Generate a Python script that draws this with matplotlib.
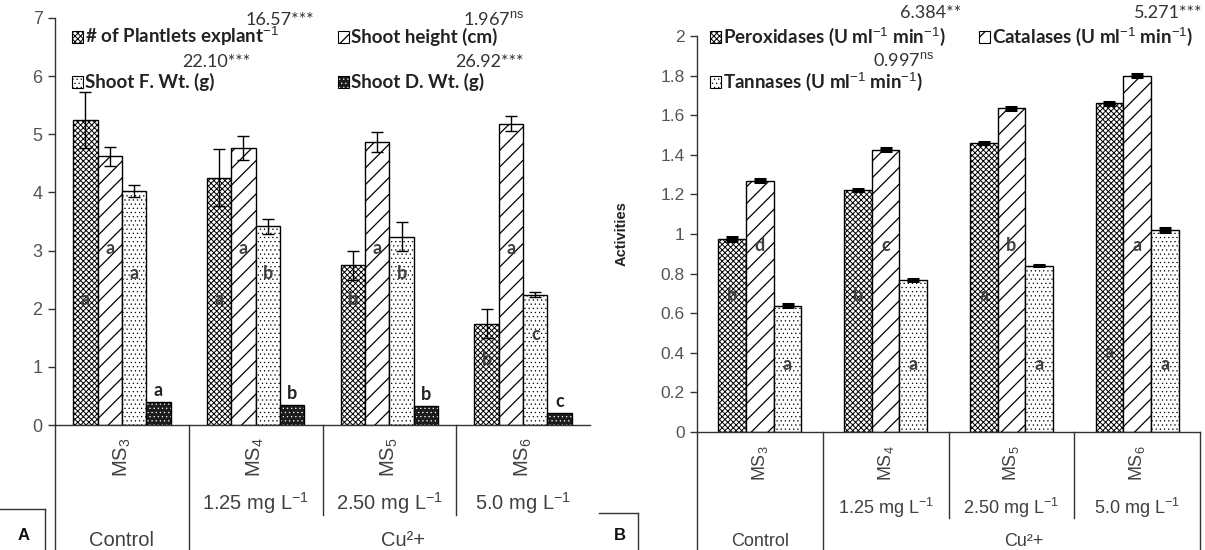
import matplotlib
matplotlib.use("Agg")
import matplotlib.pyplot as plt
import numpy as np
from matplotlib.lines import Line2D
from matplotlib.patches import Rectangle
from matplotlib.ticker import FuncFormatter

W, H = 1205, 550

plt.rcParams["font.family"] = ["Liberation Sans", "DejaVu Sans"]
plt.rcParams["mathtext.fontset"] = "custom"
plt.rcParams["mathtext.rm"] = "Liberation Sans"
plt.rcParams["mathtext.it"] = "Liberation Sans:italic"
plt.rcParams["mathtext.bf"] = "Liberation Sans:bold"

# ---- data ----------------------------------------------------------------
media = ["MS$_3$", "MS$_4$", "MS$_5$", "MS$_6$"]
doses = ["", "1.25 mg L$^{-1}$", "2.50 mg L$^{-1}$", "5.0 mg L$^{-1}$"]
treatments = ["Control", "Cu²+"]

# panel A: growth
plantlets = [5.25, 4.25, 2.75, 1.74]
plantlets_err = [0.48, 0.49, 0.25, 0.25]
height = [4.62, 4.76, 4.87, 5.18]
height_err = [0.16, 0.21, 0.17, 0.13]
fresh_wt = [4.02, 3.42, 3.24, 2.24]
fresh_wt_err = [0.10, 0.13, 0.25, 0.04]
dry_wt = [0.40, 0.34, 0.32, 0.21]

plantlets_grp = ["a", "a", "b", "b"]
height_grp = ["a", "a", "a", "a"]
fresh_wt_grp = ["a", "b", "b", "c"]
dry_wt_grp = ["a", "b", "b", "c"]

labels_a = ["# of Plantlets explant$^{-1}$", "Shoot height (cm)",
            "Shoot F. Wt. (g)", "Shoot D. Wt. (g)"]
fvals_a = ["16.57***", "1.967$^{\\rm ns}$", "22.10***", "26.92***"]

# panel B: enzyme activities
peroxidase = [0.975, 1.22, 1.46, 1.66]
peroxidase_err = [0.012, 0.005, 0.003, 0.008]
catalase = [1.27, 1.425, 1.635, 1.80]
catalase_err = [0.008, 0.008, 0.008, 0.006]
tannase = [0.637, 0.77, 0.84, 1.02]
tannase_err = [0.008, 0.005, 0.003, 0.012]

peroxidase_grp = ["b", "b", "a", "a"]
catalase_grp = ["d", "c", "b", "a"]
tannase_grp = ["a", "a", "a", "a"]

labels_b = ["Peroxidases (U ml$^{-1}$ min$^{-1}$)",
            "Catalases (U ml$^{-1}$ min$^{-1}$)",
            "Tannases (U ml$^{-1}$ min$^{-1}$)"]
fvals_b = ["6.384**", "5.271***", "0.997$^{\\rm ns}$"]

# ---- styles --------------------------------------------------------------
STYLES = {
    "cross": dict(face="white", hatch="xxxxxx", hcolor="black", hlw=0.7),
    "brick": dict(face="white", hatch="//", hcolor="black", hlw=0.9),
    "dots": dict(face="white", hatch="....", hcolor="black", hlw=0.4),
    "dark": dict(face="#1c1c1c", hatch="....", hcolor="white", hlw=0.4),
}
TICK_COLOR = "#555555"
LINE_COLOR = "#333333"
LEGEND_FONT = "Lato"


def hatched_bar(ax, x, h, width, style):
    s = STYLES[style]
    plt.rcParams["hatch.linewidth"] = s["hlw"]
    bars = ax.bar(x, h, width, color=s["face"], edgecolor=s["hcolor"],
                  hatch=s["hatch"], linewidth=0)
    for b in bars:
        if hasattr(b, "set_hatch_linewidth"):
            b.set_hatch_linewidth(s["hlw"])
    ax.bar(x, h, width, fill=False, edgecolor="black", linewidth=1)


def legend_patch(fig, x, y, style, w=11, h=12):
    """Small hatched square, x/y = top-left corner in pixels."""
    s = STYLES[style]
    plt.rcParams["hatch.linewidth"] = s["hlw"]
    r = Rectangle((x / W, 1 - (y + h) / H), w / W, h / H, transform=fig.transFigure,
                  facecolor=s["face"], edgecolor=s["hcolor"], hatch=s["hatch"],
                  linewidth=0)
    if hasattr(r, "set_hatch_linewidth"):
        r.set_hatch_linewidth(s["hlw"])
    fig.patches.append(r)
    fig.patches.append(Rectangle((x / W, 1 - (y + h) / H), w / W, h / H,
                                 transform=fig.transFigure, fill=False,
                                 edgecolor="black", linewidth=0.8))


def fig_text(fig, x, y, s, **kw):
    fig.text(x / W, 1 - y / H, s, **kw)


def below(ax, px):
    return -px / (ax.get_position().height * H)


def style_axis(ax, ymax, step, labelsize):
    ax.set_xlim(-0.5, 3.5)
    ax.set_ylim(0, ymax)
    ax.set_yticks(np.arange(0, ymax + step / 2, step))
    ax.yaxis.set_major_formatter(FuncFormatter(lambda v, _: f"{v:g}"))
    ax.set_xticks([])
    for side in ("top", "right"):
        ax.spines[side].set_visible(False)
    for side in ("left", "bottom"):
        ax.spines[side].set_color(LINE_COLOR)
        ax.spines[side].set_linewidth(1)
    ax.tick_params(axis="y", direction="out", length=5, width=1,
                   color=LINE_COLOR, labelcolor=TICK_COLOR,
                   labelsize=labelsize, pad=4)


def category_axis(ax, offsets, fontsize, right_edge):
    off_media, off_dose, off_treat, off_short, off_full = offsets
    tr = ax.get_xaxis_transform()
    kw = dict(transform=tr, ha="center", va="center", color="#404040", fontsize=fontsize)
    for i, m in enumerate(media):
        ax.text(i, below(ax, off_media), m, rotation=90, **kw)
        if doses[i]:
            ax.text(i, below(ax, off_dose), doses[i], **kw)
    ax.text(0, below(ax, off_treat), treatments[0], **kw)
    ax.text(2.1, below(ax, off_treat), treatments[1], **kw)
    line_kw = dict(transform=tr, clip_on=False, color=LINE_COLOR, linewidth=1)
    ax.plot([-0.5, -0.5], [0, below(ax, off_full)], **line_kw)
    ax.plot([0.5, 0.5], [0, below(ax, off_full)], **line_kw)
    for xd in (1.5, 2.5):
        ax.plot([xd, xd], [0, below(ax, off_short)], **line_kw)
    if right_edge:
        ax.plot([3.5, 3.5], [0, below(ax, off_full)], **line_kw)


fig = plt.figure(figsize=(W / 100, H / 100), dpi=100)
axA = fig.add_axes([55 / W, 1 - 425 / H, 535 / W, 407 / H])
axB = fig.add_axes([697 / W, 1 - 432 / H, 503 / W, 396 / H])

x = np.arange(len(media))
letter_kw = dict(ha="center", va="center", fontsize=13, fontweight="bold",
                 color="#404040", family=LEGEND_FONT)

# ---- panel A -------------------------------------------------------------
wA = 0.182
seriesA = [
    (plantlets, plantlets_err, "cross", plantlets_grp, [2.15, 2.15, 2.15, 1.13]),
    (height, height_err, "brick", height_grp, [3.04, 3.04, 3.04, 3.04]),
    (fresh_wt, fresh_wt_err, "dots", fresh_wt_grp, [2.6, 2.6, 2.6, 1.55]),
]
for k, (vals, errs, style, grp, gy) in enumerate(seriesA):
    pos = x + (k - 1.5) * wA
    hatched_bar(axA, pos, vals, wA, style)
    axA.errorbar(pos, vals, yerr=errs, fmt="none", ecolor="black",
                 elinewidth=1, capsize=4, capthick=1)
    for px_, gy_, g in zip(pos, gy, grp):
        axA.text(px_, gy_, g, **letter_kw)
pos = x + 1.5 * wA
hatched_bar(axA, pos, dry_wt, wA, "dark")
for px_, v, g in zip(pos, dry_wt, dry_wt_grp):
    axA.text(px_, v + 0.2, g, ha="center", va="center", fontsize=13,
             fontweight="bold", color="#222222", family=LEGEND_FONT)
style_axis(axA, 7, 1, 13)
category_axis(axA, (32, 78, 116, 90, 125), 14.5, right_edge=False)

# ---- panel B -------------------------------------------------------------
wB = 0.22
seriesB = [
    (peroxidase, peroxidase_err, "cross", peroxidase_grp, [0.69, 0.69, 0.69, 0.40]),
    (catalase, catalase_err, "brick", catalase_grp, [0.94, 0.94, 0.94, 0.94]),
    (tannase, tannase_err, "dots", tannase_grp, [0.34, 0.34, 0.34, 0.34]),
]
for k, (vals, errs, style, grp, gy) in enumerate(seriesB):
    pos = x + (k - 1) * wB
    hatched_bar(axB, pos, vals, wB, style)
    axB.errorbar(pos, vals, yerr=errs, fmt="none", ecolor="black",
                 elinewidth=1, capsize=4, capthick=2.2)
    for px_, gy_, g in zip(pos, gy, grp):
        axB.text(px_, gy_, g, **letter_kw)
style_axis(axB, 2, 0.2, 12.5)
axB.set_ylabel("Activities", fontsize=10.5, fontweight="bold", color="#222222")
axB.yaxis.set_label_coords(-(697 - 629) / 503, 0.5)
category_axis(axB, (31, 76, 110, 86, 118), 13, right_edge=True)

# ---- legends with F values ----------------------------------------------
leg_kw = dict(family=LEGEND_FONT, fontsize=13.5, fontweight="bold", color="#222222",
              va="baseline", ha="left")
f_kw = dict(family=LEGEND_FONT, fontsize=13, color="#333333", va="baseline", ha="right")

for (lx, ly), style, lab in zip([(72, 31), (338, 31), (72, 76), (338, 76)],
                                ["cross", "brick", "dots", "dark"], labels_a):
    legend_patch(fig, lx, ly, style)
    fig_text(fig, lx + 13, ly + 12, lab, **leg_kw)
for (fx, fy), fv in zip([(314, 25), (524, 25), (250, 67), (524, 67)], fvals_a):
    fig_text(fig, fx, fy, fv, **f_kw)

for (lx, ly), style, lab in zip([(710, 31), (979, 31), (710, 76)],
                                ["cross", "brick", "dots"], labels_b):
    legend_patch(fig, lx, ly, style)
    fig_text(fig, lx + 13, ly + 12, lab, **leg_kw)
for (fx, fy), fv in zip([(961, 18), (1202, 18), (934, 66)], fvals_b):
    fig_text(fig, fx, fy, fv, **f_kw)

# ---- panel letters -------------------------------------------------------
for lbl, (x0, x1, ytop, xr) in zip(["A", "B"], [(0, 45, 509, 45), (599, 638, 513, 638)]):
    fig.add_artist(Line2D([x0 / W, x1 / W], [1 - ytop / H] * 2, color=LINE_COLOR, lw=1))
    fig.add_artist(Line2D([xr / W, xr / W], [1 - ytop / H, 0], color=LINE_COLOR, lw=1))
    fig_text(fig, (x0 + x1) / 2 + 1, 536, lbl, ha="center", va="center",
             fontsize=12, fontweight="bold", color="#111111")

fig.savefig("out.png", dpi=100)
